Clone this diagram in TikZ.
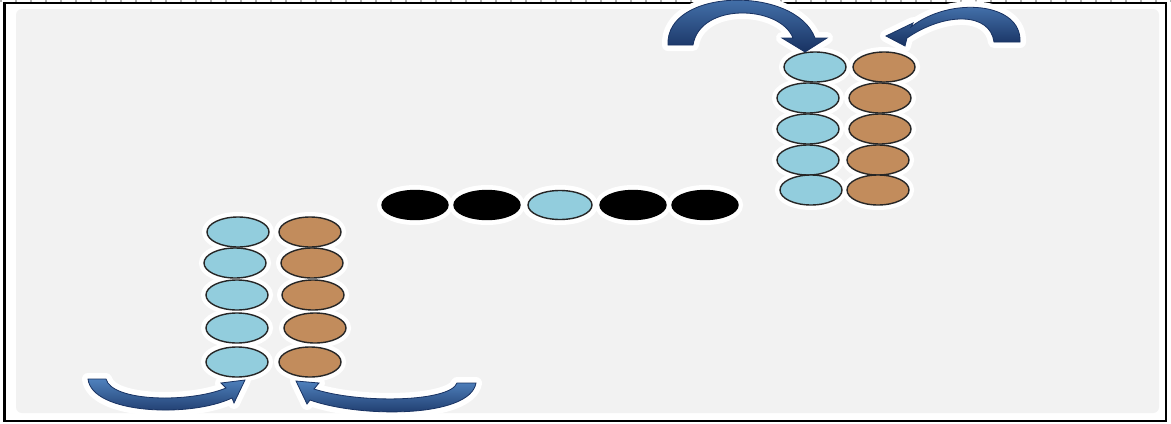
\documentclass[tikz,border=0pt]{standalone}
\usetikzlibrary{shapes.geometric}
\definecolor{beadblue}{RGB}{146,205,221}
\definecolor{beadbrown}{RGB}{194,140,92}
\definecolor{panel}{RGB}{242,242,242}
\definecolor{arrdark}{RGB}{24,50,98}
\definecolor{arrlight}{RGB}{79,129,189}
\begin{document}
\begin{tikzpicture}[x=0.5pt,y=-0.5pt,
  beadshape/.style={ellipse, minimum width=31pt, minimum height=15pt, inner sep=0pt},
  bead/.style={beadshape, draw=black!85, line width=0.7pt},
  bluebead/.style={bead, fill=beadblue},
  brownbead/.style={bead, fill=beadbrown},
  blackbead/.style={bead, fill=black, draw=black, minimum width=33pt, minimum height=14.5pt},
  halo/.style={beadshape, draw=white, fill=white, line width=5pt},
  arrowbody/.style={top color=arrlight, bottom color=arrdark, draw=arrdark, line width=0.4pt},
  arrowhalo/.style={draw=white, fill=white, line width=6pt, line join=round}]
\useasboundingbox (0,0) rectangle (1171,423);
\fill[white] (0,0) rectangle (1171,423);
\draw[gray!60, dash pattern=on 1pt off 6.5pt, line width=1pt] (0,0.5) -- (1171,0.5);
\draw[black, line width=1.2pt] (4.5,3) rectangle (1166,421);
\fill[panel] [rounded corners=3pt] (16,9) rectangle (1159,413);
% halos of beads
\foreach \p in {(815,67),(808,98),(808,129),(808,160),(811,190),
  (884,67),(880,98),(880,129),(878,160),(878,190),
  (238,232),(235,263),(237,295),(237,328),(237,362),
  (310,232),(312,263),(313,295),(315,328),(310,362)}
  \node[halo] at \p {};
\foreach \p in {(415,205),(487,205),(560,205),(633,205),(705,205)}
  \node[halo, minimum width=33pt] at \p {};
% arrow halos
\filldraw[arrowhalo] (668,45) .. controls (665,-12) and (795,-15) .. (815,38) -- (827,38) -- (805,52) -- (782,38) -- (793,38) .. controls (780,5) and (700,2) .. (693,45) -- cycle;
\filldraw[arrowhalo] (1020,42) .. controls (1022,2) and (950,-4) .. (911,27) -- (913,23) -- (886,36) -- (905,46) -- (907,38) .. controls (945,12) and (990,12) .. (994,42) -- cycle;
\filldraw[arrowhalo] (88,379) .. controls (92,414) and (190,418) .. (232,398) -- (234,403) -- (245,380) -- (221,383) -- (226,388) .. controls (190,403) and (112,402) .. (106,379) -- cycle;
\filldraw[arrowhalo] (476,383) .. controls (470,418) and (360,418) .. (310,400) -- (307,404) -- (296,381) -- (319,383) -- (314,389) .. controls (360,404) and (450,402) .. (457,383) -- cycle;
% beads top-right
\node[bluebead] (t1) at (815,67) {};
\node[bluebead] (t2) at (808,98) {};
\node[bluebead] (t3) at (808,129) {};
\node[bluebead] (t4) at (808,160) {};
\node[bluebead] (t5) at (811,190) {};
\node[brownbead] (u1) at (884,67) {};
\node[brownbead] (u2) at (880,98) {};
\node[brownbead] (u3) at (880,129) {};
\node[brownbead] (u4) at (878,160) {};
\node[brownbead] (u5) at (878,190) {};
% beads bottom-left
\node[bluebead] (b1) at (238,232) {};
\node[bluebead] (b2) at (235,263) {};
\node[bluebead] (b3) at (237,295) {};
\node[bluebead] (b4) at (237,328) {};
\node[bluebead] (b5) at (237,362) {};
\node[brownbead] (c1) at (310,232) {};
\node[brownbead] (c2) at (312,263) {};
\node[brownbead] (c3) at (313,295) {};
\node[brownbead] (c4) at (315,328) {};
\node[brownbead] (c5) at (310,362) {};
% middle row
\node[blackbead] (m1) at (415,205) {};
\node[blackbead] (m2) at (487,205) {};
\node[bluebead, minimum width=32pt, minimum height=14.5pt] (m3) at (560,205) {};
\node[blackbead] (m4) at (633,205) {};
\node[blackbead] (m5) at (705,205) {};
% arrows
\shade[arrowbody] (668,45) .. controls (665,-12) and (795,-15) .. (815,38) -- (827,38) -- (805,52) -- (782,38) -- (793,38) .. controls (780,5) and (700,2) .. (693,45) -- cycle;
\shade[arrowbody] (1020,42) .. controls (1022,2) and (950,-4) .. (911,27) -- (913,23) -- (886,36) -- (905,46) -- (907,38) .. controls (945,12) and (990,12) .. (994,42) -- cycle;
\shade[arrowbody] (88,379) .. controls (92,414) and (190,418) .. (232,398) -- (234,403) -- (245,380) -- (221,383) -- (226,388) .. controls (190,403) and (112,402) .. (106,379) -- cycle;
\shade[arrowbody] (476,383) .. controls (470,418) and (360,418) .. (310,400) -- (307,404) -- (296,381) -- (319,383) -- (314,389) .. controls (360,404) and (450,402) .. (457,383) -- cycle;
\end{tikzpicture}
\end{document}
